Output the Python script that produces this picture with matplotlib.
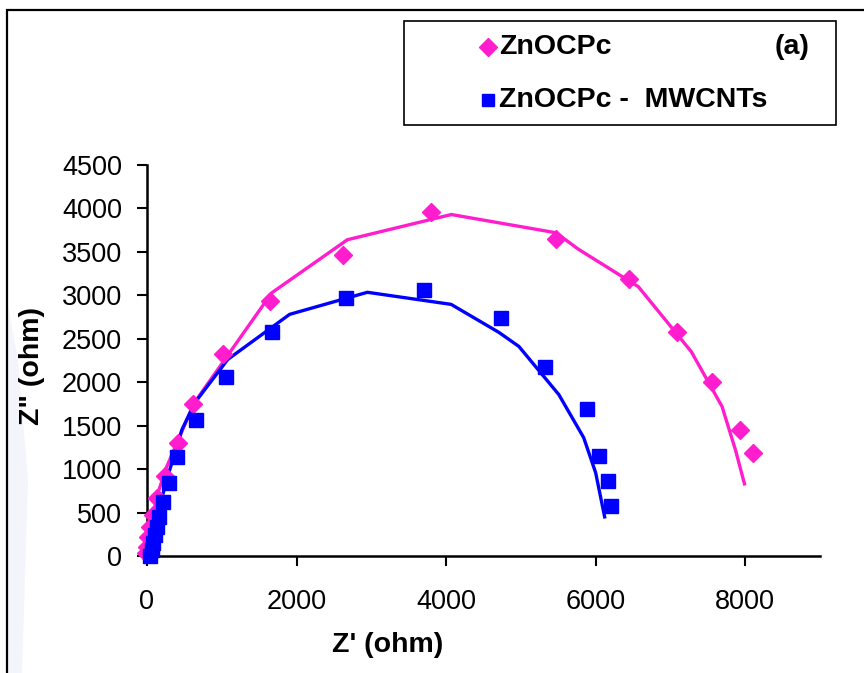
import matplotlib.pyplot as plt
from matplotlib.patches import Rectangle, Polygon
from matplotlib.lines import Line2D

plt.rcParams['font.family'] = ['Liberation Sans', 'DejaVu Sans']

# ZnOCPc measured points (Z', Z'')
zn_x = [-20, 0, 15, 40, 80, 130, 240, 410, 620, 1010, 1650, 2620, 3800, 5470, 6440, 7090, 7560, 7930, 8100]
zn_y = [35, 100, 220, 335, 470, 670, 915, 1300, 1750, 2325, 2935, 3460, 3955, 3650, 3185, 2575, 2005, 1455, 1190]

# ZnOCPc fitted curve
zn_fit_x = [0, 20, 60, 130, 250, 420, 630, 1670, 2680, 4070, 5470, 5770, 6570, 7280, 7690, 7870, 7990]
zn_fit_y = [0, 150, 380, 680, 1000, 1340, 1760, 3030, 3640, 3930, 3720, 3530, 3100, 2350, 1720, 1220, 830]

# ZnOCPc - MWCNTs measured points
cnt_x = [40, 67, 80, 107, 133, 160, 213, 293, 400, 650, 1053, 1667, 2667, 3707, 4733, 5320, 5880, 6050, 6160, 6210]
cnt_y = [0, 70, 150, 240, 335, 450, 625, 840, 1140, 1560, 2065, 2575, 2975, 3060, 2735, 2180, 1690, 1155, 865, 580]

# ZnOCPc - MWCNTs fitted curve
cnt_fit_x = [0, 60, 150, 300, 467, 640, 1080, 1907, 2947, 4067, 4707, 4973, 5507, 5840, 6000, 6120]
cnt_fit_y = [0, 200, 520, 980, 1454, 1765, 2262, 2781, 3035, 2896, 2573, 2412, 1858, 1362, 958, 450]

x_ticks = [0, 2000, 4000, 6000, 8000]
y_ticks = list(range(0, 4501, 500))

pink = '#ff1dce'
blue = '#0000ff'
W, H = 864, 673

fig = plt.figure(figsize=(8.64, 6.73), dpi=100)

# very faint shading at the left edge of the scanned page
fig.add_artist(Polygon([(7 / W, 1 - 300 / H), (18 / W, 1 - 360 / H), (28 / W, 1 - 480 / H),
                        (22 / W, 0.0), (7 / W, 0.0)], closed=True,
                       transform=fig.transFigure, fc='#f4f5fa', ec='none', zorder=0))

ax = fig.add_axes([147 / W, 1 - 556 / H, (820 - 147) / W, (556 - 165) / H])
ax.patch.set_alpha(0)

ax.plot(zn_fit_x, zn_fit_y, color=pink, lw=2.4, zorder=2, clip_on=False)
ax.plot(cnt_fit_x, cnt_fit_y, color=blue, lw=2.4, zorder=2, clip_on=False)
ax.plot(zn_x, zn_y, 'D', color=pink, ms=9.5, mec=pink, zorder=3, clip_on=False)
ax.plot(cnt_x, cnt_y, 's', color=blue, ms=10, mec=blue, zorder=4, clip_on=False)

ax.set_xlim(0, 9000)
ax.set_ylim(0, 4500)
ax.set_xticks(x_ticks)
ax.set_yticks(y_ticks)
for s in ['top', 'right']:
    ax.spines[s].set_visible(False)
for s in ['left', 'bottom']:
    ax.spines[s].set_linewidth(1.8)
ax.tick_params(axis='both', labelsize=19.5, length=7, width=1.5, direction='out')
ax.tick_params(axis='y', pad=11)
ax.tick_params(axis='x', pad=17)

fig.text(388 / W, 1 - 645 / H, "Z' (ohm)", ha='center', va='center',
         fontsize=20.5, fontweight='bold')
fig.text(32 / W, 1 - 366 / H, 'Z" (ohm)', ha='center', va='center',
         rotation=90, fontsize=20.5, fontweight='bold')

# outer frame
fig.add_artist(Rectangle((7 / W, -0.05), 1.0, 1 - 10 / H + 0.05, transform=fig.transFigure,
                         fill=False, ec='black', lw=1.6))

# legend box
fig.add_artist(Rectangle((404 / W, 1 - 125 / H), (836 - 404) / W, (125 - 21) / H,
                         transform=fig.transFigure, fill=False, ec='black', lw=1.2))
fig.add_artist(Line2D([488 / W], [1 - 47 / H], marker='D', color=pink, ms=9.5,
                      transform=fig.transFigure))
fig.add_artist(Line2D([488 / W], [1 - 100 / H], marker='s', color=blue, ms=8,
                      transform=fig.transFigure))
fig.text(499 / W, 1 - 47 / H, 'ZnOCPc', ha='left', va='center', fontsize=20.5, fontweight='bold')
fig.text(809 / W, 1 - 47 / H, '(a)', ha='right', va='center', fontsize=20.5, fontweight='bold')
fig.text(499 / W, 1 - 100 / H, 'ZnOCPc -  MWCNTs', ha='left', va='center', fontsize=20.5,
         fontweight='bold')

fig.savefig('out.png', dpi=100)
